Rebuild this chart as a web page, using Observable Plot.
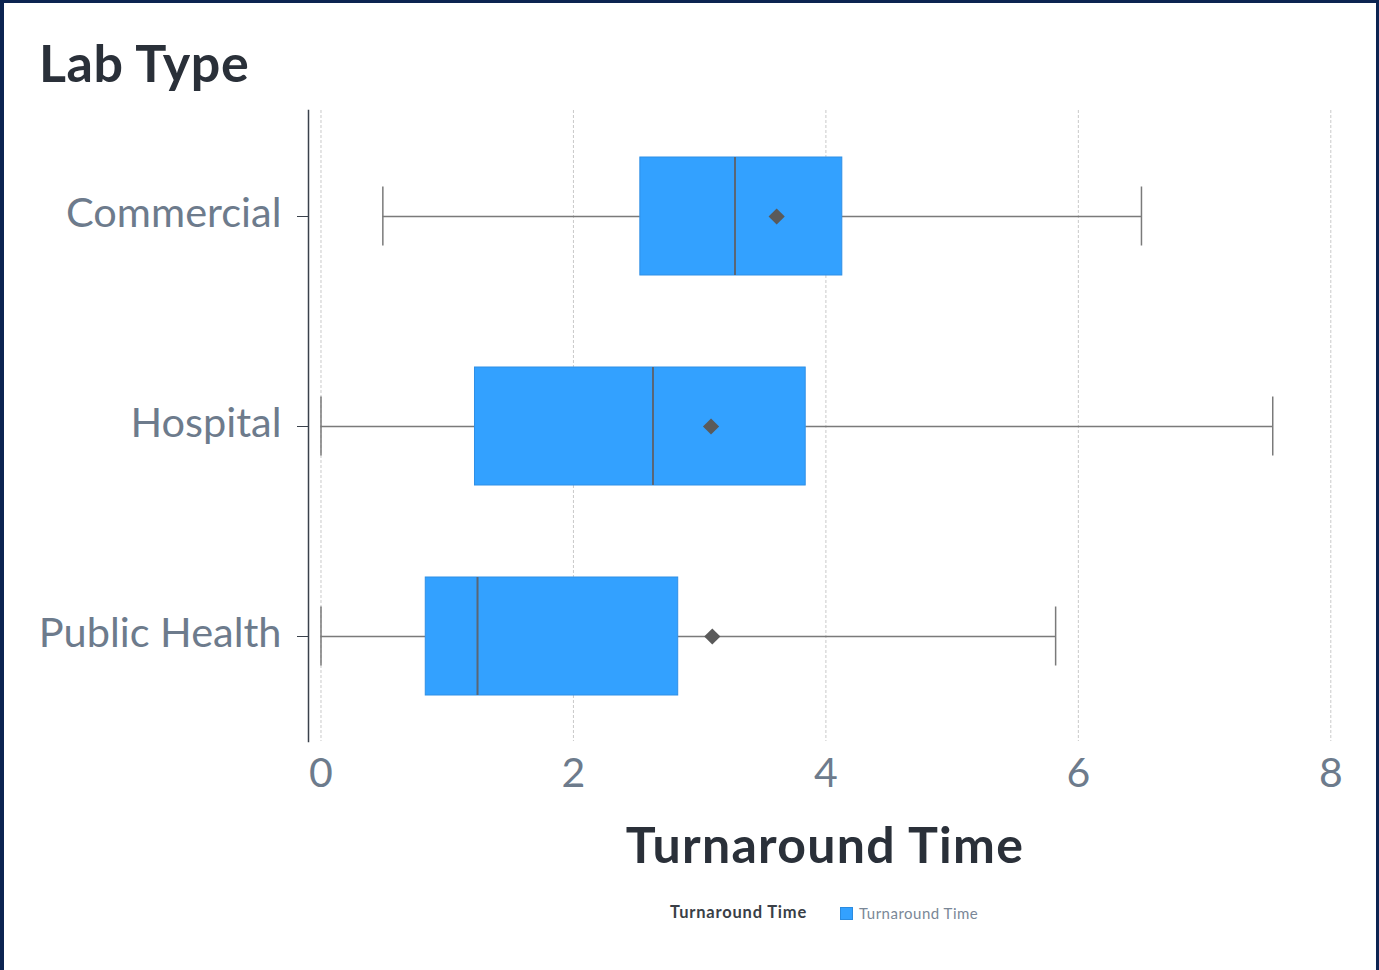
<!DOCTYPE html>
<html>
<head>
<meta charset="utf-8">
<script src="https://cdn.jsdelivr.net/npm/d3@7"></script>
<script src="https://cdn.jsdelivr.net/npm/@observablehq/plot@0.6"></script>
<style>
  html, body { margin: 0; padding: 0; background: #fff; }
  #wrap { position: relative; width: 1379px; height: 970px; background: #fff; overflow: hidden; font-family: Lato, "Noto Sans", sans-serif; }
  #chart { position: absolute; left: 0; top: 0; }
  #title { position: absolute; left: 39px; top: 36px; font-size: 52px; line-height: 52px; font-weight: 700; letter-spacing: 0.6px; color: #2a3039; white-space: nowrap; }
  #xlabel { position: absolute; left: 0; width: 1650px; top: 819px; text-align: center; font-size: 50px; line-height: 50px; font-weight: 700; letter-spacing: 1.3px; color: #2a3039; white-space: nowrap; }
  #legend { position: absolute; left: 670px; top: 903px; height: 20px; white-space: nowrap; }
  #legend .lt { position: absolute; left: 0; top: 0; font-size: 16.5px; line-height: 18px; font-weight: 700; letter-spacing: 0.8px; color: #3a3f47; }
  #legend .sw { position: absolute; left: 170px; top: 4px; width: 11px; height: 11px; background: #33a1ff; border: 1px solid #2a8be0; }
  #legend .li { position: absolute; left: 189px; top: 1px; font-size: 15px; line-height: 18px; letter-spacing: 0.5px; color: #7a8797; }
  .bd { position: absolute; background: #0c2451; }
</style>
</head>
<body>
<div id="wrap">
  <div id="chart"></div>
  <div id="title">Lab Type</div>
  <div id="xlabel">Turnaround Time</div>
  <div id="legend">
    <span class="lt">Turnaround Time</span>
    <span class="sw"></span>
    <span class="li">Turnaround Time</span>
  </div>
  <div class="bd" style="left:0;top:0;width:4px;height:970px"></div>
  <div class="bd" style="left:0;top:0;width:1379px;height:3px"></div>
  <div class="bd" style="left:1376px;top:0;width:3px;height:970px"></div>
</div>
<script>
// ---- Data ----
const categories   = ["Commercial", "Hospital", "Public Health"];
const whiskerLow   = [0.49, 0.00, 0.00];
const q1           = [2.53, 1.22, 0.83];
const median       = [3.28, 2.63, 1.24];
const q3           = [4.13, 3.84, 2.83];
const whiskerHigh  = [6.50, 7.54, 5.82];
const mean         = [3.61, 3.09, 3.10];
const xTicks       = [0, 2, 4, 6, 8];

const rows = categories.map((c, i) => ({
  cat: c, low: whiskerLow[i], q1: q1[i], med: median[i], q3: q3[i], high: whiskerHigh[i], mean: mean[i]
}));

const boxInset = 46;
const capInset = 75.5;

const chart = Plot.plot({
  width: 1379,
  height: 800,
  marginLeft: 308,
  marginRight: 48.7,
  marginTop: 110,
  marginBottom: 59,
  style: { fontFamily: "Lato, 'Noto Sans', sans-serif", background: "transparent", overflow: "visible" },
  x: { domain: [-0.099, 8] },
  y: { domain: categories, padding: 0 },
  marks: [
    Plot.gridX({ ticks: xTicks, stroke: "#c9c9c9", strokeOpacity: 1, strokeDasharray: "3,2" }),
    Plot.frame({ anchor: "left", stroke: "#3a414b", strokeWidth: 1.5 }),
    Plot.axisY({ tickSize: 11, label: null, stroke: "#3a414b", text: null }),
    Plot.axisY({ tickSize: 0, tickPadding: 27, fontSize: 41.5, fill: "#6d7b8c", label: null, dy: -3 }),
    Plot.axisX({ ticks: xTicks, tickSize: 0, tickPadding: 16, fontSize: 41, fill: "#6d7b8c", label: null }),
    // whiskers
    Plot.ruleY(rows, { y: "cat", x1: "low", x2: "q1", stroke: "#7a7a7a", strokeWidth: 1.5 }),
    Plot.ruleY(rows, { y: "cat", x1: "q3", x2: "high", stroke: "#7a7a7a", strokeWidth: 1.5 }),
    Plot.tickX(rows, { x: "low", y: "cat", insetTop: capInset, insetBottom: capInset, stroke: "#7a7a7a", strokeWidth: 1.5 }),
    Plot.tickX(rows, { x: "high", y: "cat", insetTop: capInset, insetBottom: capInset, stroke: "#7a7a7a", strokeWidth: 1.5 }),
    // boxes
    Plot.barX(rows, { y: "cat", x1: "q1", x2: "q3", insetTop: boxInset, insetBottom: boxInset, fill: "#33a1ff", stroke: "#2f8fe6", strokeWidth: 1 }),
    // medians
    Plot.tickX(rows, { x: "med", y: "cat", insetTop: boxInset, insetBottom: boxInset, stroke: "#5a6675", strokeWidth: 2 }),
    // means
    Plot.dot(rows, { x: "mean", y: "cat", symbol: "diamond2", r: 7.3, fill: "#5a5a5a", stroke: "none" })
  ]
});
document.getElementById("chart").appendChild(chart);
</script>
</body>
</html>
